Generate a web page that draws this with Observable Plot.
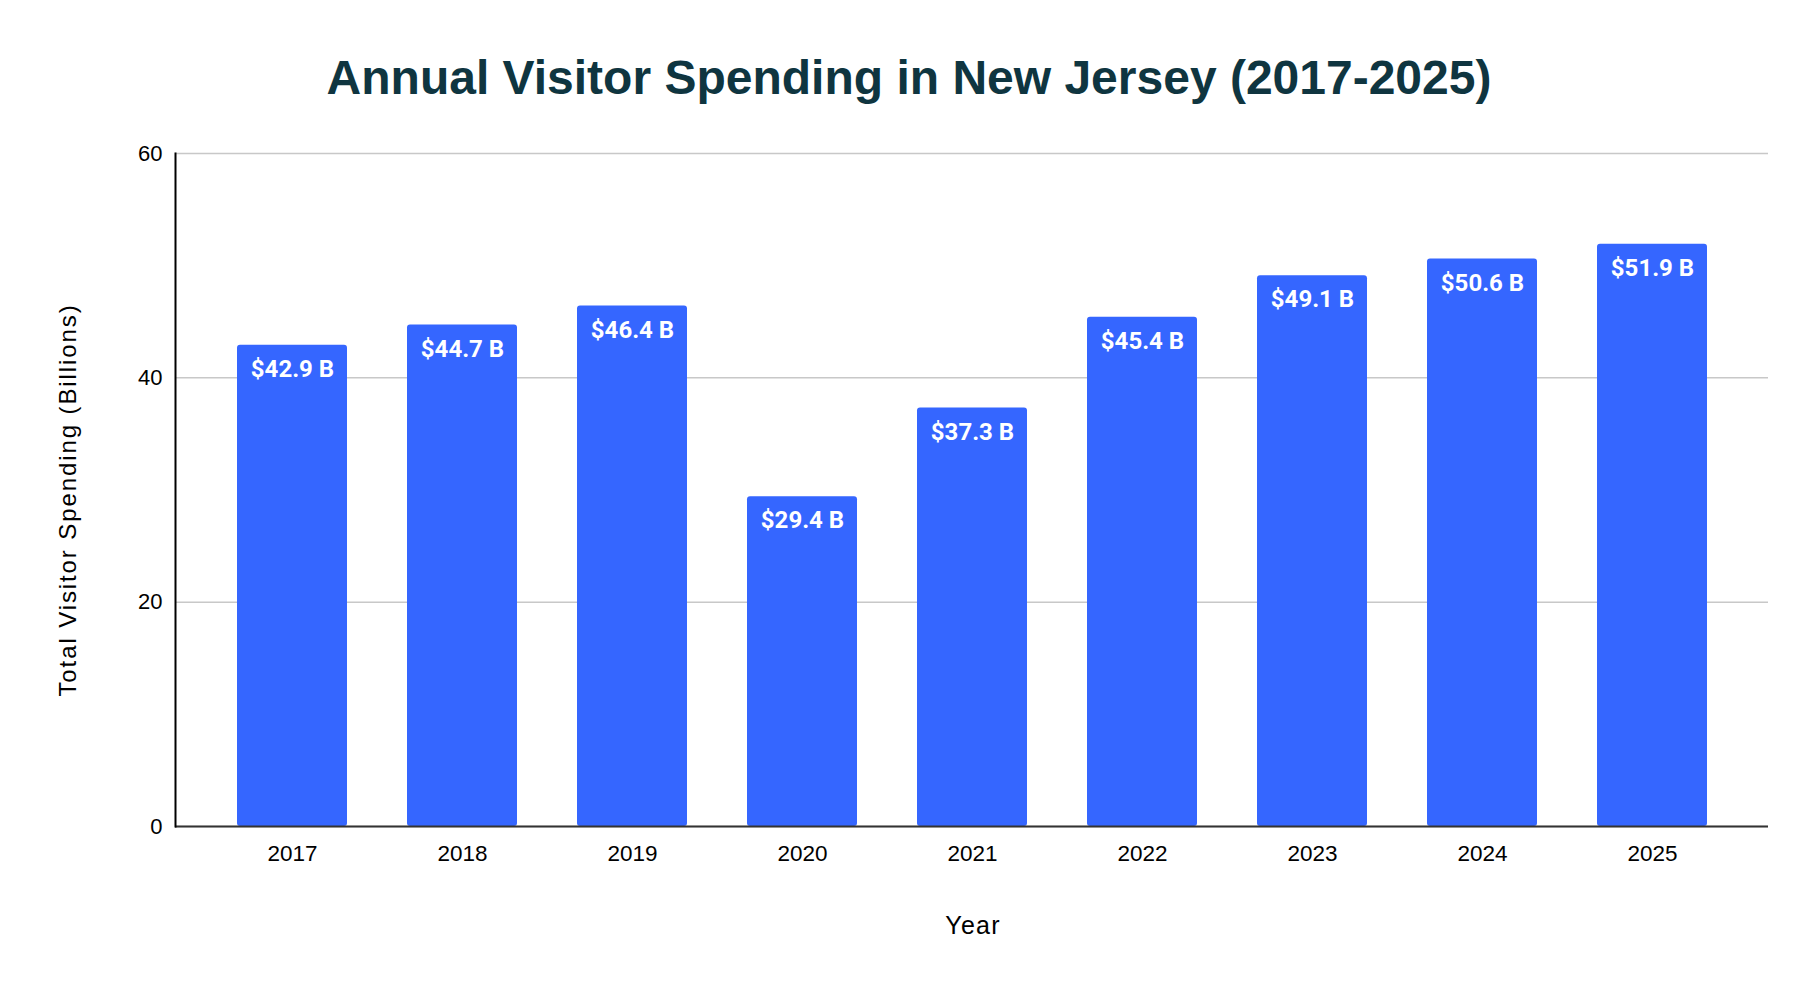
<!DOCTYPE html>
<html>
<head>
<meta charset="utf-8">
<script src="https://cdn.jsdelivr.net/npm/d3@7"></script>
<script src="https://cdn.jsdelivr.net/npm/@observablehq/plot@0.6"></script>
<style>
  html, body { margin: 0; padding: 0; background: #fff; }
  #wrap { width: 1818px; height: 990px; overflow: hidden; }
  #title { height: 120px; box-sizing: border-box; padding-top: 50px; text-align: center; padding-left: 0px;
    font-family: "Liberation Sans", Arial, sans-serif; font-weight: bold; font-size: 48px; line-height: 56px; color: #0f3540; }
  svg { display: block; }
</style>
</head>
<body>
<div id="wrap">
  <div id="title">Annual Visitor Spending in New Jersey (2017-2025)</div>
  <div id="chart"></div>
</div>
<script>
const years = ["2017", "2018", "2019", "2020", "2021", "2022", "2023", "2024", "2025"];
const spending = [42.9, 44.7, 46.4, 29.4, 37.3, 45.4, 49.1, 50.6, 51.9];
const yTicks = [0, 20, 40, 60];
const xLabel = "Year";
const yLabel = "Total Visitor Spending (Billions)";

const data = years.map((year, i) => ({ year, value: spending[i] }));

const chart = Plot.plot({
  width: 1818,
  height: 870,
  marginLeft: 175,
  marginRight: 50,
  marginTop: 33,
  marginBottom: 164,
  style: { fontFamily: "'Liberation Sans', Arial, sans-serif", fontSize: "22px", color: "#000", background: "#fff" },
  x: { domain: years, paddingInner: 0.355, paddingOuter: 0.345, label: null },
  y: { domain: [0, 60], label: null },
  marks: [
    Plot.gridY(yTicks, { stroke: "#c8c8c8", strokeOpacity: 1, strokeWidth: 1.5 }),
    Plot.barY(data, { x: "year", y: "value", fill: "#3566ff", rx: 3 }),
    Plot.ruleY([0], { stroke: "#333", strokeWidth: 2 }),
    Plot.frame({ anchor: "left", stroke: "#000", strokeWidth: 2 }),
    Plot.axisY(yTicks, { tickSize: 0, tickPadding: 13, label: null, fontSize: 22 }),
    Plot.axisX({ tickSize: 0, tickPadding: 19, label: null, fontSize: 22.5 }),
    Plot.text(data, {
      x: "year", y: "value", dy: 24,
      text: d => `$${d.value.toFixed(1)} B`,
      fill: "#fff", fontWeight: "bold", fontSize: 24,
      fontFamily: "Roboto, sans-serif"
    }),
    Plot.text([xLabel], { frameAnchor: "bottom", textAnchor: "middle", dx: 1, dy: 107, fontSize: 25, fill: "#000" }),
    Plot.text([yLabel], { frameAnchor: "left", textAnchor: "middle", dx: -107, dy: 10, rotate: -90, fontSize: 24, fill: "#000" })
  ]
});
d3.select(chart).selectAll("text").filter(function () { return this.textContent === yLabel; }).style("letter-spacing", "1.9px");
d3.select(chart).selectAll("text").filter(function () { return this.textContent === xLabel; }).style("letter-spacing", "1.2px");
document.getElementById("chart").appendChild(chart);
</script>
</body>
</html>
